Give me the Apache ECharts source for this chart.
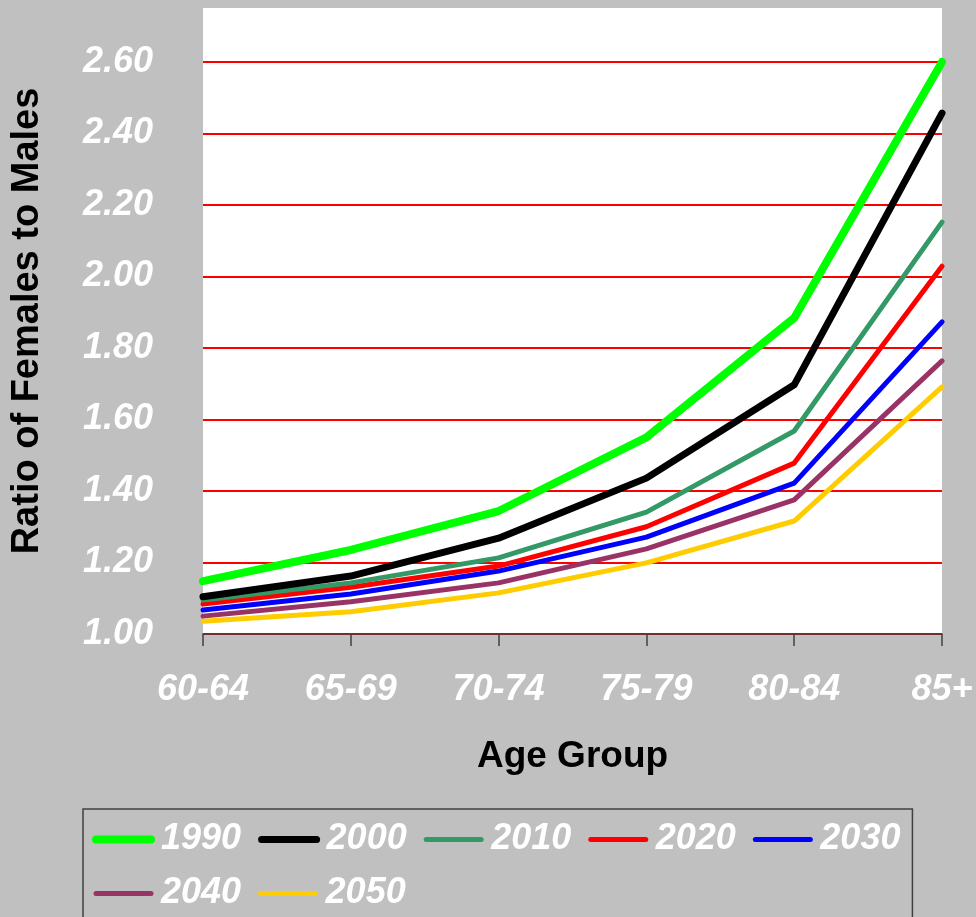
<!DOCTYPE html>
<html>
<head>
<meta charset="utf-8">
<script src="https://cdn.jsdelivr.net/npm/echarts@6/dist/echarts.min.js"></script>
<style>
html,body{margin:0;padding:0;background:#c0c0c0;}
#chart{width:976px;height:917px;}
</style>
</head>
<body>
<div id="chart"></div>
<script>
const categories = ['60-64','65-69','70-74','75-79','80-84','85+'];
const seriesNames = ['1990','2000','2010','2020','2030','2040','2050'];
const v1990 = [1.148, 1.235, 1.344, 1.550, 1.884, 2.600];
const v2000 = [1.104, 1.162, 1.268, 1.436, 1.697, 2.457];
const v2010 = [1.095, 1.143, 1.213, 1.341, 1.568, 2.152];
const v2020 = [1.084, 1.131, 1.190, 1.300, 1.478, 2.029];
const v2030 = [1.067, 1.112, 1.176, 1.271, 1.422, 1.873];
const v2040 = [1.050, 1.090, 1.143, 1.238, 1.375, 1.764];
const v2050 = [1.036, 1.062, 1.115, 1.199, 1.316, 1.691];
const yTicks = { min: 1.0, max: 2.6, interval: 0.2 };

const values = [v1990, v2000, v2010, v2020, v2030, v2040, v2050];
const colors = ['#00ff00','#000000','#339966','#ff0000','#0000ff','#993366','#ffcc00'];
const widths = [8, 7, 5, 5, 5, 5, 5];

const FONT = '"Liberation Sans", Arial, sans-serif';
const chart = echarts.init(document.getElementById('chart'));

const series = seriesNames.map((n, i) => ({
  name: n,
  type: 'line',
  data: values[i],
  symbol: 'none',
  clip: false,
  color: colors[i],
  lineStyle: { color: colors[i], width: widths[i], cap: 'round', join: 'round' },
  z: 10 - i
}));

chart.setOption({
  backgroundColor: '#c0c0c0',
  animation: false,
  graphic: [{
    type: 'rect', z: -10, silent: true,
    shape: { x: 203, y: 8, width: 739, height: 626 },
    style: { fill: '#ffffff' }
  }],
  grid: { left: 203, right: 34, top: 62, bottom: 283, containLabel: false },
  xAxis: {
    type: 'category',
    data: categories,
    boundaryGap: false,
    name: 'Age Group',
    nameLocation: 'middle',
    nameGap: 104,
    nameTextStyle: { fontFamily: FONT, fontSize: 37, fontWeight: 'bold', color: '#000', lineHeight: 37 },
    axisLine: { show: true, lineStyle: { color: '#404040', width: 1.5 } },
    axisTick: { show: true, alignWithLabel: true, length: 12, inside: false, lineStyle: { color: '#404040', width: 1.5 } },
    axisLabel: { interval: 0, margin: 38, fontFamily: FONT, fontSize: 36, fontWeight: 'bold', fontStyle: 'italic', color: '#ffffff' },
    splitLine: { show: false }
  },
  yAxis: {
    type: 'value',
    min: yTicks.min, max: yTicks.max, interval: yTicks.interval,
    name: 'Ratio of Females to Males',
    nameLocation: 'middle',
    nameGap: 156,
    nameTextStyle: { fontFamily: FONT, fontSize: 38, fontWeight: 'bold', color: '#000', lineHeight: 38, padding: [0, 0, 0, 54] },
    axisLine: { show: false },
    axisTick: { show: false },
    axisLabel: { margin: 50, fontFamily: FONT, fontSize: 36, fontWeight: 'bold', fontStyle: 'italic', color: '#ffffff',
      formatter: v => v.toFixed(2) },
    splitLine: { show: true, lineStyle: { color: '#ff0000', width: 2 } }
  },
  legend: {
    data: seriesNames,
    left: 83, top: 809,
    width: 840,
    orient: 'horizontal',
    padding: [12, 12, 11, 9],
    itemWidth: 55, itemHeight: 14, itemGap: 17,
    borderColor: '#404040', borderWidth: 1.5,
    itemStyle: { opacity: 0 },
    lineStyle: { width: 'inherit', cap: 'round' },
    textStyle: { fontFamily: FONT, fontSize: 36, fontWeight: 'bold', fontStyle: 'italic', color: '#ffffff', lineHeight: 37, padding: [0, 0, 0, 5] }
  },
  series: series
});
</script>
</body>
</html>
